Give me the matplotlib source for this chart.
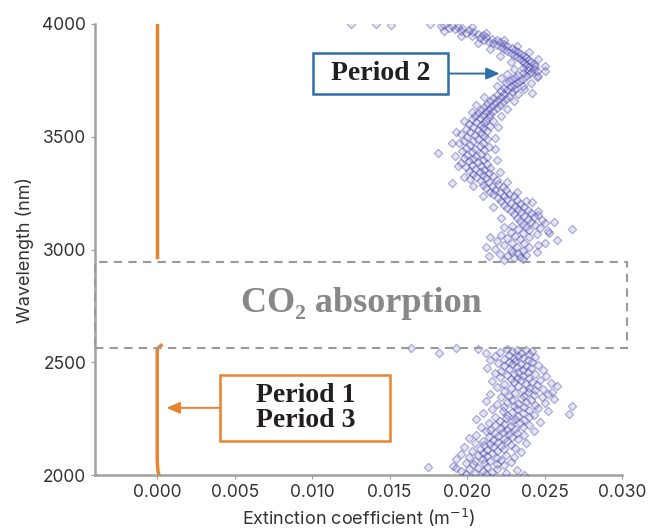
import matplotlib.pyplot as plt
from matplotlib.patches import Rectangle

# Period 2 scatter, upper band (wavelength nm, extinction m^-1)
p2_upper = [
    (3998, 0.0125), (3998, 0.0141), (3997, 0.0151),
    (3998, 0.0176), (3996, 0.0185), (3993, 0.0190), (3990, 0.0183), (3987, 0.0194), (3984, 0.0188),
    (3980, 0.0197), (3976, 0.0192), (3972, 0.0201), (3968, 0.0196), (3964, 0.0204), (3960, 0.0199),
    (3955, 0.0207), (3951, 0.0210), (3985, 0.0203), (3970, 0.0185), (3960, 0.0212), (3945, 0.0196),
    (3947, 0.0203), (3943, 0.0212), (3939, 0.0208), (3935, 0.0216), (3931, 0.0211), (3927, 0.0219),
    (3922, 0.0214), (3918, 0.0221), (3914, 0.0217), (3910, 0.0224), (3905, 0.0219), (3901, 0.0226),
    (3930, 0.0224), (3915, 0.0207), (3900, 0.0232), (3890, 0.0215), (3875, 0.0240), (3860, 0.0221),
    (3897, 0.0222), (3893, 0.0229), (3889, 0.0224), (3884, 0.0231), (3880, 0.0226), (3876, 0.0233),
    (3871, 0.0228), (3867, 0.0235), (3862, 0.0230), (3858, 0.0237), (3853, 0.0232),
    (3849, 0.0238), (3844, 0.0234), (3840, 0.0240), (3835, 0.0236), (3831, 0.0241), (3826, 0.0237),
    (3822, 0.0243), (3817, 0.0238), (3813, 0.0244), (3808, 0.0240), (3804, 0.0236),
    (3845, 0.0246), (3830, 0.0228), (3815, 0.0250), (3800, 0.0230), (3790, 0.0250), (3780, 0.0226),
    (3799, 0.0243), (3795, 0.0239), (3790, 0.0245), (3786, 0.0241), (3781, 0.0236), (3777, 0.0240),
    (3772, 0.0233), (3768, 0.0238), (3763, 0.0231), (3758, 0.0236), (3754, 0.0229), (3765, 0.0245),
    (3770, 0.0246), (3760, 0.0222), (3740, 0.0241), (3725, 0.0219), (3710, 0.0237), (3690, 0.0233),
    (3749, 0.0234), (3745, 0.0227), (3740, 0.0232), (3736, 0.0225), (3731, 0.0230), (3727, 0.0236),
    (3722, 0.0228), (3718, 0.0224), (3713, 0.0231), (3709, 0.0226), (3704, 0.0222), (3700, 0.0229),
    (3695, 0.0242), (3675, 0.0211), (3660, 0.0230), (3640, 0.0206), (3625, 0.0226), (3610, 0.0203),
    (3691, 0.0224), (3686, 0.0219), (3682, 0.0227), (3677, 0.0222), (3673, 0.0217), (3668, 0.0225),
    (3664, 0.0220), (3659, 0.0215), (3655, 0.0223), (3650, 0.0218),
    (3646, 0.0213), (3641, 0.0221), (3637, 0.0216), (3632, 0.0211), (3628, 0.0219), (3623, 0.0214),
    (3618, 0.0209), (3614, 0.0217), (3609, 0.0212), (3605, 0.0207), (3600, 0.0215),
    (3596, 0.0210), (3591, 0.0205), (3587, 0.0214), (3582, 0.0208), (3578, 0.0203), (3573, 0.0212),
    (3569, 0.0217), (3564, 0.0206), (3560, 0.0211), (3555, 0.0201), (3551, 0.0209),
    (3590, 0.0222), (3570, 0.0198), (3545, 0.0220), (3520, 0.0193), (3495, 0.0218), (3470, 0.0190),
    (3546, 0.0215), (3542, 0.0204), (3537, 0.0210), (3533, 0.0199), (3528, 0.0207), (3524, 0.0213),
    (3519, 0.0202), (3515, 0.0209), (3510, 0.0196), (3506, 0.0205), (3501, 0.0211),
    (3497, 0.0200), (3492, 0.0207), (3488, 0.0213), (3483, 0.0198), (3479, 0.0204), (3474, 0.0210),
    (3470, 0.0195), (3465, 0.0202), (3461, 0.0208), (3456, 0.0214), (3452, 0.0199),
    (3447, 0.0205), (3443, 0.0211), (3438, 0.0197), (3434, 0.0203), (3427, 0.0181), (3425, 0.0209),
    (3420, 0.0200), (3416, 0.0206), (3411, 0.0213), (3407, 0.0198), (3402, 0.0204),
    (3445, 0.0218), (3415, 0.0192), (3395, 0.0219), (3370, 0.0194), (3345, 0.0221), (3320, 0.0198),
    (3398, 0.0210), (3393, 0.0201), (3389, 0.0207), (3384, 0.0196), (3380, 0.0213), (3375, 0.0203),
    (3371, 0.0209), (3366, 0.0199), (3362, 0.0215), (3357, 0.0205), (3353, 0.0211),
    (3348, 0.0201), (3344, 0.0208), (3339, 0.0214), (3335, 0.0204), (3330, 0.0210), (3326, 0.0217),
    (3321, 0.0206), (3317, 0.0212), (3312, 0.0202), (3308, 0.0219), (3303, 0.0209),
    (3298, 0.0214), (3293, 0.0190), (3289, 0.0220), (3284, 0.0210), (3280, 0.0216), (3275, 0.0223),
    (3271, 0.0212), (3266, 0.0218), (3262, 0.0225), (3257, 0.0215), (3253, 0.0221),
    (3300, 0.0226), (3280, 0.0204), (3255, 0.0232), (3235, 0.0210), (3215, 0.0238), (3190, 0.0217),
    (3248, 0.0227), (3244, 0.0217), (3239, 0.0224), (3235, 0.0230), (3230, 0.0220), (3226, 0.0226),
    (3221, 0.0232), (3217, 0.0222), (3212, 0.0242), (3208, 0.0228), (3203, 0.0234),
    (3199, 0.0224), (3194, 0.0231), (3190, 0.0237), (3185, 0.0226), (3181, 0.0233), (3176, 0.0239),
    (3172, 0.0228), (3167, 0.0235), (3163, 0.0241), (3158, 0.0230), (3154, 0.0246),
    (3170, 0.0246), (3140, 0.0222), (3120, 0.0256), (3100, 0.0224), (3075, 0.0253), (3055, 0.0215),
    (3149, 0.0237), (3145, 0.0243), (3140, 0.0232), (3136, 0.0239), (3131, 0.0248), (3127, 0.0234),
    (3122, 0.0241), (3118, 0.0250), (3113, 0.0236), (3109, 0.0244), (3104, 0.0229),
    (3093, 0.0268), (3099, 0.0238), (3095, 0.0247), (3090, 0.0233), (3086, 0.0240), (3081, 0.0252),
    (3077, 0.0228), (3072, 0.0236), (3068, 0.0245), (3063, 0.0222), (3059, 0.0231), (3054, 0.0240),
    (3050, 0.0226), (3045, 0.0234), (3040, 0.0258), (3036, 0.0219), (3031, 0.0229), (3027, 0.0237),
    (3022, 0.0246), (3018, 0.0224), (3013, 0.0232), (3009, 0.0240), (3004, 0.0218), (3000, 0.0228),
    (2995, 0.0236), (2991, 0.0229), (2986, 0.0233), (2982, 0.0221), (2977, 0.0238), (2973, 0.0226),
    (2968, 0.0234), (2964, 0.0230), (2958, 0.0236), (2955, 0.0224),
    (3030, 0.0250), (3010, 0.0212), (2990, 0.0245), (2970, 0.0214),
]

# Period 2 scatter, lower band
p2_lower = [
    (2563, 0.0164), (2562, 0.0193), (2560, 0.0207), (2558, 0.0226), (2556, 0.0232), (2554, 0.0238),
    (2551, 0.0229), (2548, 0.0242), (2545, 0.0221), (2542, 0.0235), (2540, 0.0182), (2539, 0.0212),
    (2536, 0.0240), (2533, 0.0227), (2530, 0.0233), (2527, 0.0218), (2524, 0.0244), (2521, 0.0230),
    (2518, 0.0236), (2515, 0.0224), (2512, 0.0239), (2509, 0.0215), (2506, 0.0231), (2503, 0.0227),
    (2500, 0.0242),
    (2497, 0.0220), (2494, 0.0235), (2491, 0.0229), (2488, 0.0246), (2485, 0.0224), (2482, 0.0238),
    (2479, 0.0232), (2476, 0.0213), (2473, 0.0241), (2470, 0.0227), (2467, 0.0236), (2464, 0.0249),
    (2461, 0.0222), (2458, 0.0233), (2455, 0.0239), (2452, 0.0218), (2450, 0.0230),
    (2447, 0.0244), (2444, 0.0226), (2441, 0.0236), (2438, 0.0251), (2435, 0.0221), (2432, 0.0232),
    (2429, 0.0240), (2426, 0.0228), (2423, 0.0247), (2420, 0.0235), (2417, 0.0216), (2414, 0.0242),
    (2411, 0.0230), (2408, 0.0254), (2405, 0.0238), (2403, 0.0224), (2400, 0.0245),
    (2397, 0.0233), (2394, 0.0258), (2391, 0.0219), (2388, 0.0240), (2385, 0.0228), (2382, 0.0249),
    (2379, 0.0236), (2376, 0.0244), (2373, 0.0224), (2370, 0.0239), (2367, 0.0255), (2364, 0.0231),
    (2361, 0.0252), (2358, 0.0215), (2355, 0.0243), (2352, 0.0227), (2350, 0.0237),
    (2347, 0.0248), (2344, 0.0222), (2341, 0.0235), (2338, 0.0256), (2335, 0.0229), (2332, 0.0241),
    (2329, 0.0212), (2326, 0.0238), (2323, 0.0226), (2320, 0.0250), (2317, 0.0233), (2314, 0.0219),
    (2311, 0.0244), (2308, 0.0268), (2305, 0.0230), (2302, 0.0237), (2300, 0.0224),
    (2297, 0.0246), (2294, 0.0216), (2291, 0.0232), (2288, 0.0240), (2285, 0.0223), (2282, 0.0252),
    (2279, 0.0229), (2276, 0.0236), (2273, 0.0210), (2271, 0.0266), (2268, 0.0243), (2265, 0.0226),
    (2262, 0.0233), (2259, 0.0218), (2256, 0.0240), (2253, 0.0225), (2250, 0.0231),
    (2247, 0.0206), (2244, 0.0237), (2241, 0.0221), (2238, 0.0229), (2235, 0.0247), (2232, 0.0214),
    (2229, 0.0234), (2226, 0.0224), (2223, 0.0240), (2220, 0.0218), (2217, 0.0228), (2214, 0.0209),
    (2211, 0.0236), (2208, 0.0222), (2205, 0.0231), (2202, 0.0215), (2200, 0.0226),
    (2197, 0.0243), (2194, 0.0212), (2191, 0.0223), (2188, 0.0232), (2185, 0.0218), (2182, 0.0227),
    (2179, 0.0206), (2176, 0.0237), (2173, 0.0220), (2170, 0.0214), (2167, 0.0229), (2164, 0.0201),
    (2161, 0.0224), (2158, 0.0233), (2155, 0.0217), (2152, 0.0210), (2150, 0.0226),
    (2147, 0.0220), (2144, 0.0238), (2141, 0.0205), (2138, 0.0215), (2135, 0.0228), (2132, 0.0211),
    (2129, 0.0222), (2126, 0.0198), (2123, 0.0217), (2120, 0.0231), (2117, 0.0208), (2114, 0.0224),
    (2111, 0.0213), (2108, 0.0203), (2105, 0.0219), (2102, 0.0235), (2100, 0.0210),
    (2097, 0.0216), (2094, 0.0196), (2091, 0.0225), (2088, 0.0207), (2085, 0.0213), (2082, 0.0230),
    (2079, 0.0201), (2076, 0.0219), (2073, 0.0210), (2070, 0.0193), (2067, 0.0222), (2064, 0.0205),
    (2061, 0.0215), (2058, 0.0228), (2055, 0.0199), (2052, 0.0211), (2050, 0.0219),
    (2047, 0.0204), (2044, 0.0224), (2041, 0.0191), (2038, 0.0213), (2035, 0.0175), (2033, 0.0207),
    (2031, 0.0193), (2029, 0.0219), (2026, 0.0201), (2023, 0.0232), (2020, 0.0210), (2017, 0.0196),
    (2014, 0.0216), (2011, 0.0205), (2008, 0.0225), (2005, 0.0199), (2003, 0.0212), (2001, 0.0237),
]

# Period 1 / Period 3 (near zero), split by the CO2 band
p13_low_wl = [2000, 2015, 2060, 2300, 2560, 2575]
p13_low_ext = [0.00012, 0.00005, 0.0, 0.0, 0.0, 0.00025]
p13_up_wl = [2965, 3500, 4000]
p13_up_ext = [0.0, 0.0, 0.0]

co2_band = (2565, 2945)

fig = plt.figure(figsize=(6.48, 5.32), dpi=100)
ax = fig.add_axes([0.147, 0.107, 0.813, 0.848])

wl, ext = zip(*(p2_upper + p2_lower))
ax.scatter(ext, wl, marker='D', s=18, facecolor=(0.55, 0.55, 0.85, 0.22),
           edgecolor=(0.25, 0.25, 0.65, 0.4), linewidth=0.9, zorder=3)

orange = '#E8832F'
blue = '#2F6FA8'
ax.plot(p13_low_ext, p13_low_wl, color=orange, lw=2.5, zorder=4)
ax.plot(p13_up_ext, p13_up_wl, color=orange, lw=2.5, zorder=4)

ax.set_xlim(-0.004, 0.030)
ax.set_ylim(2000, 4000)
ax.set_xticks([0.000, 0.005, 0.010, 0.015, 0.020, 0.025, 0.030])
ax.set_yticks([2000, 2500, 3000, 3500, 4000])
ax.set_xticklabels(['%.3f' % t for t in ax.get_xticks()])

for s in ['top', 'right']:
    ax.spines[s].set_visible(False)
for s in ['left', 'bottom']:
    ax.spines[s].set_color('#a0a0a0')
    ax.spines[s].set_linewidth(1.8)
ax.tick_params(colors='#a0a0a0', length=3, labelcolor='#333333', labelsize=12.5)
for lab in ax.get_xticklabels() + ax.get_yticklabels():
    lab.set_family('Inter')

ax.set_xlabel('Extinction coefficient (m$^{-1}$)', fontsize=13, color='#333333',
              family='Inter', labelpad=4)
ax.set_ylabel('Wavelength (nm)', fontsize=13, color='#333333', family='Inter', labelpad=6)

serif = ['Liberation Serif', 'DejaVu Serif']

# CO2 absorption band
ax.add_patch(Rectangle((-0.004, co2_band[0]), 0.0343, co2_band[1] - co2_band[0],
                       fill=False, ls=(0, (4, 3)), lw=1.5, ec='#9a9a9a', clip_on=False, zorder=5))
ax.text(0.0132, 2760, 'CO₂ absorption', ha='center', va='center', fontsize=26,
        fontweight='bold', color='#888888', family=serif)

# annotation boxes
ax.add_patch(Rectangle((0.01004, 3689), 0.00875, 182, fc='white', ec=blue, lw=1.8, zorder=6))
ax.text(0.01441, 3780, 'Period 2', ha='center', va='center', fontsize=20, fontweight='bold',
        color='#231f20', family=serif, zorder=7)
ax.annotate('', xy=(0.0221, 3780), xytext=(0.01879, 3780),
            arrowprops=dict(arrowstyle='-|>,head_length=0.8,head_width=0.35', color=blue,
                            lw=1.4, shrinkA=0, shrinkB=0), zorder=6)

ax.add_patch(Rectangle((0.00408, 2151), 0.01095, 293, fc='white', ec=orange, lw=1.8, zorder=6))
ax.text(0.00956, 2298, 'Period 1\nPeriod 3', ha='center', va='center', fontsize=20,
        fontweight='bold', color='#231f20', family=serif, linespacing=1.0, zorder=7)
ax.annotate('', xy=(0.0006, 2298), xytext=(0.00408, 2298),
            arrowprops=dict(arrowstyle='-|>,head_length=0.8,head_width=0.35', color=orange,
                            lw=1.4, shrinkA=0, shrinkB=0), zorder=6)

fig.savefig('out.png', dpi=100)
